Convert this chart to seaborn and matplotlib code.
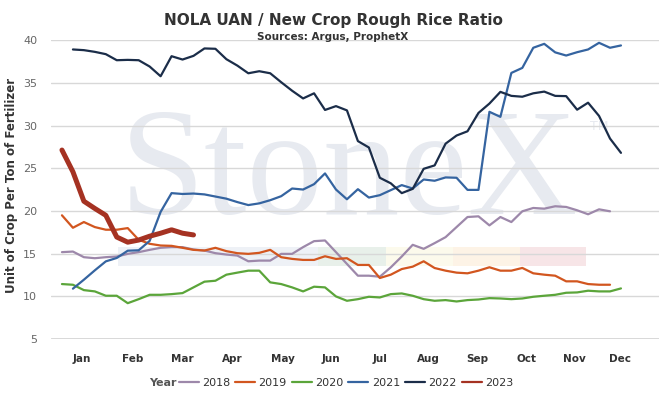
import matplotlib
matplotlib.use("Agg")
import matplotlib.pyplot as plt
from matplotlib.lines import Line2D
from matplotlib.patches import Rectangle
import seaborn as sns
import pandas as pd

# ---------------- data ----------------
years = ["2018", "2019", "2020", "2021", "2022", "2023"]
colors = ["#9d88aa", "#d2561f", "#5ba53a", "#3564a0", "#1b2d49", "#a53222"]
widths = [1.6, 1.6, 1.6, 1.6, 1.6, 3.6]

start_week = {"2018": 1, "2019": 1, "2020": 1, "2021": 2, "2022": 2, "2023": 1}

v2018 = [15.18, 15.25, 14.59, 14.47, 14.59, 14.67, 14.98, 15.18, 15.45, 15.69,
         15.77, 15.77, 15.49, 15.37, 15.06, 14.90, 14.78, 14.11, 14.19, 14.19,
         14.98, 14.98, 15.77, 16.47, 16.55, 15.18, 13.80, 12.42, 12.42, 12.30,
         13.40, 14.67, 16.04, 15.57, 16.24, 16.94, 18.12, 19.30, 19.38, 18.32,
         19.30, 18.71, 19.97, 20.36, 20.28, 20.56, 20.48, 20.09, 19.62, 20.20,
         19.97]
v2019 = [19.50, 18.04, 18.71, 18.12, 17.81, 17.81, 18.00, 16.63, 16.16, 15.96,
         15.92, 15.69, 15.45, 15.37, 15.69, 15.30, 15.06, 14.98, 15.10, 15.45,
         14.59, 14.39, 14.27, 14.27, 14.70, 14.39, 14.47, 13.68, 13.68, 12.15,
         12.54, 13.20, 13.48, 14.11, 13.32, 13.01, 12.78, 12.70, 13.01, 13.41,
         13.01, 13.01, 13.33, 12.70, 12.54, 12.42, 11.76, 11.76, 11.44, 11.36,
         11.36]
v2020 = [11.44, 11.36, 10.73, 10.58, 10.07, 10.07, 9.20, 9.67, 10.18, 10.18,
         10.26, 10.38, 11.05, 11.72, 11.83, 12.54, 12.78, 13.01, 13.01, 11.64,
         11.44, 11.05, 10.58, 11.13, 11.05, 9.99, 9.48, 9.67, 9.95, 9.87,
         10.26, 10.34, 10.07, 9.67, 9.48, 9.56, 9.40, 9.56, 9.63, 9.79,
         9.75, 9.67, 9.75, 9.95, 10.07, 10.18, 10.42, 10.46, 10.66, 10.58,
         10.58, 10.93]
v2021 = [10.90, 11.95, 13.05, 14.10, 14.50, 15.35, 15.40, 16.50, 19.90, 22.10,
         22.00, 22.05, 21.95, 21.70, 21.45, 21.05, 20.70, 20.90, 21.27, 21.74,
         22.64, 22.52, 23.15, 24.41, 22.52, 21.38, 22.56, 21.58, 21.86, 22.45,
         23.04, 22.64, 23.70, 23.55, 23.94, 23.90, 22.48, 22.48, 31.63, 31.04,
         36.19, 36.78, 39.14, 39.60, 38.60, 38.23, 38.62, 38.94, 39.72, 39.14,
         39.41]
v2022 = [38.94, 38.86, 38.66, 38.39, 37.68, 37.72, 37.68, 36.94, 35.80, 38.15,
         37.76, 38.19, 39.06, 39.02, 37.80, 37.05, 36.15, 36.39, 36.15, 35.10,
         34.10, 33.20, 33.80, 31.85, 32.30, 31.80, 28.20, 27.45, 23.90, 23.25,
         22.10, 22.60, 24.95, 25.35, 27.90, 28.85, 29.35, 31.50, 32.60, 33.97,
         33.50, 33.40, 33.80, 34.00, 33.50, 33.47, 31.88, 32.70, 31.15, 28.50,
         26.82]
v2023 = [27.15, 24.60, 21.15, 20.30, 19.50, 16.95, 16.35, 16.60, 17.05, 17.40,
         17.80, 17.40, 17.20]

values = {"2018": v2018, "2019": v2019, "2020": v2020,
          "2021": v2021, "2022": v2022, "2023": v2023}

months = ["Jan", "Feb", "Mar", "Apr", "May", "Jun",
          "Jul", "Aug", "Sep", "Oct", "Nov", "Dec"]
month_pos = [2.77, 7.42, 12.0, 16.52, 21.2, 25.5, 30.0, 34.46, 38.93, 43.4, 47.75, 51.9]
y_ticks = [5, 10, 15, 20, 25, 30, 35, 40]

rows = []
for y in years:
    s = start_week[y]
    for i, v in enumerate(values[y]):
        rows.append({"Week": s + i, "Ratio": v, "Year": y})
df = pd.DataFrame(rows)

# ---------------- figure ----------------
sns.set_theme(style="white")
plt.rcParams["font.family"] = ["DejaVu Sans"]

W, H = 672, 401
fig = plt.figure(figsize=(W / 100, H / 100), dpi=100)
ax = fig.add_axes([51 / W, 62 / H, 608 / W, 299 / H])

# watermark (StoneX logo)
wm = "#e7eaf0"
ax.text(120 / W, 1 - 214 / H, "StoneX", transform=fig.transFigure,
        family="Liberation Serif", fontsize=110, color=wm,
        ha="left", va="baseline", zorder=0.1)
ax.text(590 / W, 1 - 127 / H, "TM", transform=fig.transFigure,
        fontsize=9, color=wm, ha="left", va="center", zorder=0.1)
stripes = [(118, 318, "#eef1f6"), (318, 386, "#e8f0ea"), (386, 453, "#fcfaec"),
           (453, 520, "#fdf3e6"), (520, 586, "#f7e5e7")]
for x0, x1, c in stripes:
    ax.add_patch(Rectangle((x0 / W, 1 - 266 / H), (x1 - x0) / W, 19 / H,
                           transform=fig.transFigure, facecolor=c,
                           edgecolor="none", zorder=0.1))

palette = dict(zip(years, colors))
sizes = dict(zip(years, widths))
sns.lineplot(data=df, x="Week", y="Ratio", hue="Year", size="Year",
             hue_order=years, size_order=years, palette=palette, sizes=sizes,
             estimator=None, sort=False, legend=False, ax=ax, zorder=3)
for ln in ax.get_lines():
    ln.set_solid_joinstyle("round")
    ln.set_solid_capstyle("round")

ax.set_xlim(0, 55.47)
ax.set_ylim(5, 40.05)
ax.set_yticks(y_ticks)
ax.set_yticklabels([str(t) for t in y_ticks])
ax.set_xticks(month_pos)
ax.set_xticklabels(months)
ax.tick_params(axis="y", length=0, pad=10, labelsize=8, labelcolor="#666666")
ax.tick_params(axis="x", length=0, pad=11, labelsize=7.5, labelcolor="#333333")
for lab in ax.get_xticklabels():
    lab.set_fontweight("bold")
ax.set_axisbelow(True)
ax.yaxis.grid(True, color="#d8d8d8", linewidth=1.0)
ax.xaxis.grid(False)
for sp in ax.spines.values():
    sp.set_visible(False)
ax.axhline(5, color="#d0d0d0", linewidth=1.8, zorder=1)
ax.set_xlabel("")
ax.set_ylabel("")

# titles
fig.text(333 / W, 1 - 20 / H, "NOLA UAN / New Crop Rough Rice Ratio",
         ha="center", va="center", fontsize=11, fontweight="bold", color="#333333")
fig.text(333 / W, 1 - 37.5 / H, "Sources: Argus, ProphetX",
         ha="center", va="center", fontsize=7.5, fontweight="bold", color="#333333")
fig.text(12 / W, 1 - 185 / H, "Unit of Crop Per Ton of Fertilizer", rotation=90,
         ha="center", va="center", fontsize=8.5, fontweight="bold", color="#333333")

# legend
handles = [Line2D([0], [0], color=c, lw=1.6) for c in colors]
leg = fig.legend(handles, years, loc="center", ncol=6, frameon=False,
                 bbox_to_anchor=((180 + 512) / 2 / W, 1 - 383 / H),
                 fontsize=8, handlelength=1.8, handletextpad=0.3,
                 columnspacing=0.45, borderpad=0)
for t in leg.get_texts():
    t.set_color("#333333")
fig.text(177 / W, 1 - 383 / H, "Year", ha="right", va="center",
         fontsize=8, fontweight="bold", color="#555555")

fig.savefig("out.png", dpi=100, facecolor="white")
